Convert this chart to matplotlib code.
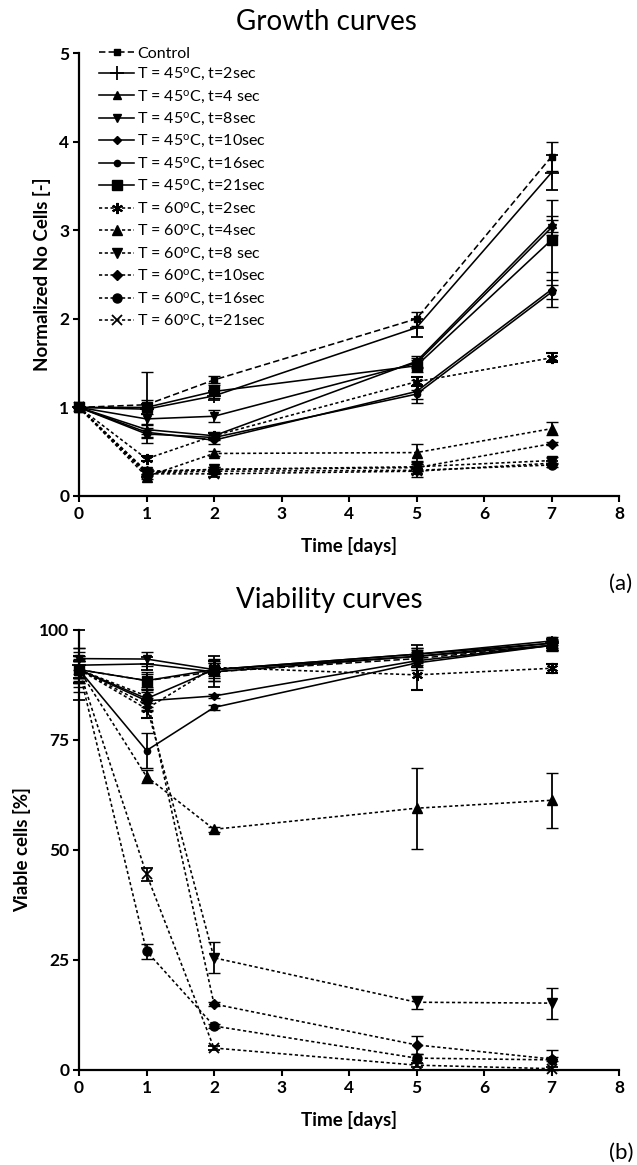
import matplotlib
matplotlib.use("Agg")
import matplotlib.pyplot as plt
import numpy as np

plt.rcParams['font.family'] = ['Lato', 'DejaVu Sans']
plt.rcParams['mathtext.default'] = 'regular'

days = [0, 1, 2, 5, 7]

labels = ['Control',
          r'T = 45$^{o}$C, t=2sec', r'T = 45$^{o}$C, t=4 sec', r'T = 45$^{o}$C, t=8sec',
          r'T = 45$^{o}$C, t=10sec', r'T = 45$^{o}$C, t=16sec', r'T = 45$^{o}$C, t=21sec',
          r'T = 60$^{o}$C, t=2sec', r'T = 60$^{o}$C, t=4sec', r'T = 60$^{o}$C, t=8 sec',
          r'T = 60$^{o}$C, t=10sec', r'T = 60$^{o}$C, t=16sec', r'T = 60$^{o}$C, t=21sec']

# Growth curves (normalized number of cells)
growth_control = [1.00, 1.03, 1.31, 2.00, 3.83]
growth_45_2 = [1.00, 0.98, 1.13, 1.90, 3.65]
growth_45_4 = [1.00, 0.75, 0.68, 1.52, 3.07]
growth_45_8 = [1.00, 0.87, 0.90, 1.50, 3.03]
growth_45_10 = [1.00, 0.72, 0.63, 1.18, 2.33]
growth_45_16 = [1.00, 0.70, 0.66, 1.15, 2.30]
growth_45_21 = [1.00, 1.00, 1.18, 1.47, 2.89]
growth_60_2 = [1.00, 0.42, 0.68, 1.29, 1.56]
growth_60_4 = [1.00, 0.22, 0.48, 0.49, 0.76]
growth_60_8 = [1.00, 0.27, 0.30, 0.33, 0.40]
growth_60_10 = [1.00, 0.28, 0.30, 0.32, 0.59]
growth_60_16 = [1.00, 0.26, 0.28, 0.29, 0.35]
growth_60_21 = [1.00, 0.25, 0.25, 0.28, 0.37]

gerr_control = [0.0, 0.05, 0.04, 0.08, 0.16]
gerr_45_2 = [0.0, 0.06, 0.05, 0.10, 0.20]
gerr_45_4 = [0.0, 0.05, 0.04, 0.06, 0.09]
gerr_45_8 = [0.0, 0.06, 0.07, 0.06, 0.08]
gerr_45_10 = [0.0, 0.05, 0.04, 0.13, 0.20]
gerr_45_16 = [0.0, 0.05, 0.03, 0.05, 0.08]
gerr_45_21 = [0.0, 0.40, 0.07, 0.07, 0.45]
gerr_60_2 = [0.0, 0.03, 0.03, 0.05, 0.05]
gerr_60_4 = [0.0, 0.03, 0.03, 0.10, 0.07]
gerr_60_8 = [0.0, 0.03, 0.03, 0.05, 0.04]
gerr_60_10 = [0.0, 0.03, 0.03, 0.04, 0.02]
gerr_60_16 = [0.0, 0.03, 0.03, 0.07, 0.02]
gerr_60_21 = [0.0, 0.03, 0.03, 0.03, 0.02]

# Viability curves (%)
via_control = [91.0, 88.5, 90.5, 93.5, 96.5]
via_45_2 = [92.0, 92.3, 90.5, 94.0, 97.0]
via_45_4 = [91.0, 84.4, 91.0, 94.5, 97.0]
via_45_8 = [93.5, 93.4, 91.0, 94.5, 97.5]
via_45_10 = [91.0, 83.9, 85.0, 93.0, 96.5]
via_45_16 = [91.0, 72.6, 82.4, 92.5, 96.5]
via_45_21 = [91.0, 88.5, 91.0, 94.0, 96.5]
via_60_2 = [91.0, 82.1, 91.5, 89.8, 91.3]
via_60_4 = [91.0, 66.7, 54.7, 59.5, 61.3]
via_60_8 = [91.0, 83.0, 25.5, 15.4, 15.2]
via_60_10 = [91.0, 85.0, 15.0, 5.7, 2.5]
via_60_16 = [91.0, 27.0, 10.0, 2.7, 2.3]
via_60_21 = [91.0, 44.5, 5.0, 1.1, 0.3]

verr_control = [3.0, 1.5, 2.0, 1.5, 1.0]
verr_45_2 = [8.0, 1.5, 3.5, 2.5, 1.0]
verr_45_4 = [4.0, 2.0, 2.0, 1.5, 1.0]
verr_45_8 = [2.5, 1.5, 1.5, 1.5, 0.8]
verr_45_10 = [3.0, 2.0, 0.5, 1.5, 1.0]
verr_45_16 = [2.5, 4.0, 0.5, 1.5, 1.0]
verr_45_21 = [5.0, 2.0, 2.5, 1.5, 1.2]
verr_60_2 = [3.0, 2.0, 1.5, 3.5, 1.0]
verr_60_4 = [2.0, 1.5, 0.5, 9.2, 6.2]
verr_60_8 = [2.0, 1.5, 3.5, 1.5, 3.5]
verr_60_10 = [2.0, 1.5, 0.5, 2.0, 0.5]
verr_60_16 = [2.0, 1.7, 0.5, 1.0, 2.3]
verr_60_21 = [2.0, 1.5, 0.5, 0.5, 0.3]

growth = [growth_control, growth_45_2, growth_45_4, growth_45_8, growth_45_10, growth_45_16,
          growth_45_21, growth_60_2, growth_60_4, growth_60_8, growth_60_10, growth_60_16, growth_60_21]
gerrs = [gerr_control, gerr_45_2, gerr_45_4, gerr_45_8, gerr_45_10, gerr_45_16,
         gerr_45_21, gerr_60_2, gerr_60_4, gerr_60_8, gerr_60_10, gerr_60_16, gerr_60_21]
via = [via_control, via_45_2, via_45_4, via_45_8, via_45_10, via_45_16,
       via_45_21, via_60_2, via_60_4, via_60_8, via_60_10, via_60_16, via_60_21]
verrs = [verr_control, verr_45_2, verr_45_4, verr_45_8, verr_45_10, verr_45_16,
         verr_45_21, verr_60_2, verr_60_4, verr_60_8, verr_60_10, verr_60_16, verr_60_21]

dash_ctrl = (0, (4, 2))
dot = (0, (2, 1.6))
styles = [
    dict(marker='s', ms=5, ls=dash_ctrl),
    dict(marker='+', ms=10, ls='-', mew=1.3),
    dict(marker='^', ms=6, ls='-'),
    dict(marker='v', ms=6, ls='-'),
    dict(marker='D', ms=4, ls='-'),
    dict(marker='o', ms=4.5, ls='-'),
    dict(marker='s', ms=7, ls='-'),
    dict(marker=(6, 2, 0), ms=8, ls=dot, mew=1.5),
    dict(marker='^', ms=7, ls=dot),
    dict(marker='v', ms=7, ls=dot),
    dict(marker='D', ms=5.5, ls=dot),
    dict(marker='o', ms=6.5, ls=dot),
    dict(marker='x', ms=7, ls=dot, mew=1.3),
]

fig = plt.figure(figsize=(6.37, 11.65), dpi=100)
W, H = 637.0, 1165.0
ax1 = fig.add_axes([79 / W, 1 - 496 / H, 540 / W, 443 / H])
ax2 = fig.add_axes([79 / W, 1 - 1070 / H, 540 / W, 440 / H])

def style_axis(ax):
    for s in ['top', 'right']:
        ax.spines[s].set_visible(False)
    for s in ['left', 'bottom']:
        ax.spines[s].set_linewidth(1.6)
    ax.tick_params(direction='out', length=4, width=1.5, labelsize=12.5, pad=3)
    for lab in ax.get_xticklabels() + ax.get_yticklabels():
        lab.set_fontweight('bold')
    ax.set_xlim(0, 8)
    ax.set_xticks(range(0, 9))

def draw(ax, data, errs):
    handles = []
    for y, e, st in zip(data, errs, styles):
        ls = st['ls']
        h = ax.errorbar(days, y, yerr=e, color='black', lw=1.15, ls=ls,
                        marker=st['marker'], ms=st['ms'], mew=st.get('mew', 1.0),
                        mfc='black', mec='black', ecolor='black', elinewidth=1.3,
                        capsize=4, capthick=1.3, clip_on=False, zorder=3)
        if isinstance(ls, tuple):
            h.lines[0].set_dashes(ls[1])
        handles.append(h.lines[0])
    return handles

handles = draw(ax1, growth, gerrs)
draw(ax2, via, verrs)

ax1.set_ylim(0, 5)
ax1.set_yticks(range(0, 6))
ax2.set_ylim(0, 100)
ax2.set_yticks([0, 25, 50, 75, 100])
style_axis(ax1)
style_axis(ax2)

ax1.set_ylabel('Normalized No Cells [-]', fontsize=13.5, fontweight='bold')
ax1.set_xlabel('Time [days]', fontsize=13.5, fontweight='bold')
ax2.set_ylabel('Viable cells [%]', fontsize=13.5, fontweight='bold')
ax2.set_xlabel('Time [days]', fontsize=13.5, fontweight='bold')
ax1.yaxis.set_label_coords((51 - 79) / 540, 0.5)
ax2.yaxis.set_label_coords((31 - 79) / 540, 0.5)
ax1.xaxis.set_label_coords(0.5, -(537 - 496) / 443)
ax2.xaxis.set_label_coords(0.5, -(1111 - 1070) / 440)

leg = ax1.legend(handles, labels, loc='upper left', bbox_to_anchor=(20 / 540, 1.015),
                 frameon=False, fontsize=11.5, handlelength=2.2, handletextpad=0.2,
                 labelspacing=0.33, borderpad=0, borderaxespad=0)

fig.text(326 / W, 1 - 22 / H, 'Growth curves', ha='center', va='center', fontsize=20)
fig.text(329 / W, 1 - 600 / H, 'Viability curves', ha='center', va='center', fontsize=20)
fig.text(621 / W, 1 - 584 / H, '(a)', ha='center', va='center', fontsize=16)
fig.text(621 / W, 1 - 1153 / H, '(b)', ha='center', va='center', fontsize=16)

fig.savefig('out.png', dpi=100)
